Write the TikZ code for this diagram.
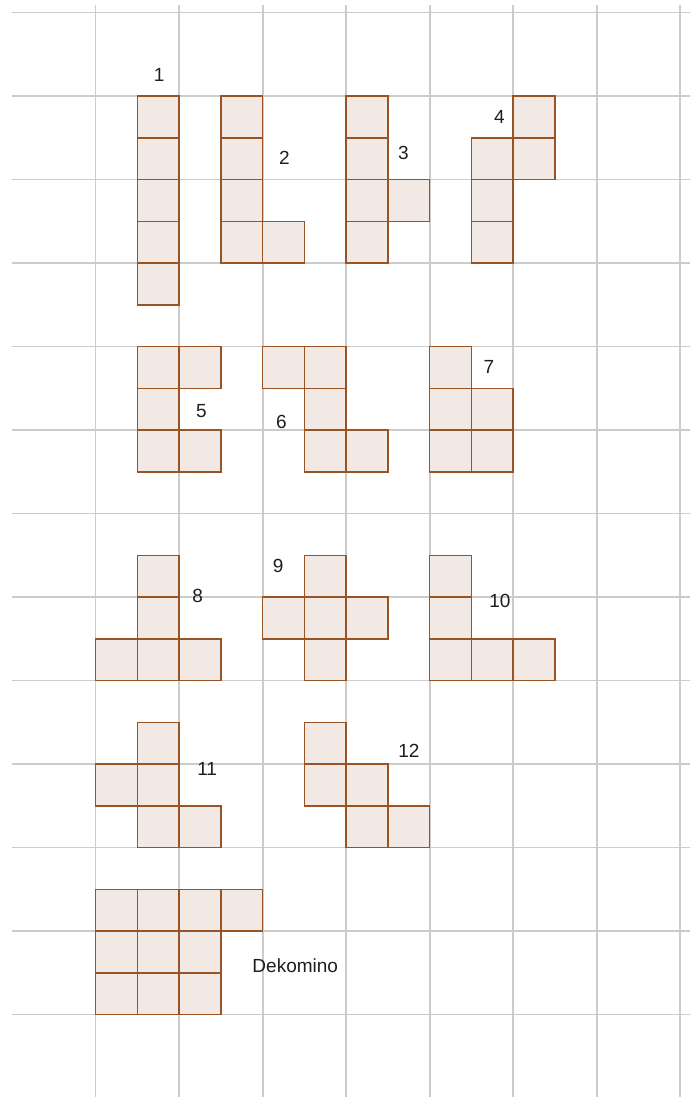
\documentclass[tikz,border=0pt]{standalone}
\usepackage{fontspec}
\setmainfont{Liberation Sans}
\definecolor{gridc}{RGB}{204,204,204}
\definecolor{edgec}{RGB}{153,84,38}
\definecolor{fillc}{RGB}{243,233,228}
\definecolor{txtc}{RGB}{30,30,30}
\begin{document}
\begin{tikzpicture}[x=41.75pt,y=-41.75pt,
  gridline/.style={gridc,line width=1.6pt},
  sq/.style={draw=edgec,fill=fillc,line width=1.5pt},
  lab/.style={inner sep=0pt,text=txtc,font=\fontsize{19}{22}\selectfont}]
\useasboundingbox (-2.2922,-0.2994) rectangle (14.2347,25.976);
\fill[white] (-2.2922,-0.2994) rectangle (14.2347,25.976);
% grid
\foreach \j in {0,2,...,24} \draw[gridline] (-2,\j) -- (14.2347,\j);
\foreach \i in {0,2,...,14} \draw[gridline] (\i,-0.18) -- (\i,25.976);
% pieces
\foreach \a/\b in {1/2,1/3,1/4,1/5,1/6} \draw[sq] (\a,\b) rectangle ++(1,1);
\foreach \a/\b in {3/2,3/3,3/4,3/5,4/5} \draw[sq] (\a,\b) rectangle ++(1,1);
\foreach \a/\b in {6/2,6/3,6/4,6/5,7/4} \draw[sq] (\a,\b) rectangle ++(1,1);
\foreach \a/\b in {10/2,10/3,9/3,9/4,9/5} \draw[sq] (\a,\b) rectangle ++(1,1);
\foreach \a/\b in {1/8,2/8,1/9,1/10,2/10} \draw[sq] (\a,\b) rectangle ++(1,1);
\foreach \a/\b in {4/8,5/8,5/9,5/10,6/10} \draw[sq] (\a,\b) rectangle ++(1,1);
\foreach \a/\b in {8/8,8/9,9/9,8/10,9/10} \draw[sq] (\a,\b) rectangle ++(1,1);
\foreach \a/\b in {1/13,1/14,0/15,1/15,2/15} \draw[sq] (\a,\b) rectangle ++(1,1);
\foreach \a/\b in {5/13,4/14,5/14,6/14,5/15} \draw[sq] (\a,\b) rectangle ++(1,1);
\foreach \a/\b in {8/13,8/14,8/15,9/15,10/15} \draw[sq] (\a,\b) rectangle ++(1,1);
\foreach \a/\b in {1/17,0/18,1/18,1/19,2/19} \draw[sq] (\a,\b) rectangle ++(1,1);
\foreach \a/\b in {5/17,5/18,6/18,6/19,7/19} \draw[sq] (\a,\b) rectangle ++(1,1);
\foreach \a/\b in {0/21,1/21,2/21,3/21,0/22,1/22,2/22,0/23,1/23,2/23} \draw[sq] (\a,\b) rectangle ++(1,1);
% labels
\node[lab] (l1) at (1.52,1.50) {1};
\node[lab] (l2) at (4.52,3.49) {2};
\node[lab] (l3) at (7.37,3.37) {3};
\node[lab] (l4) at (9.67,2.50) {4};
\node[lab] (l5) at (2.53,9.55) {5};
\node[lab] (l6) at (4.45,9.80) {6};
\node[lab] (l7) at (9.42,8.48) {7};
\node[lab] (l8) at (2.44,13.98) {8};
\node[lab] (l9) at (4.37,13.26) {9};
\node[lab] (l10) at (9.68,14.09) {10};
\node[lab] (l11) at (2.67,18.13) {11};
\node[lab] (l12) at (7.50,17.69) {12};
\node[lab] (ldek) at (4.78,22.84) {Dekomino};
\end{tikzpicture}
\end{document}
